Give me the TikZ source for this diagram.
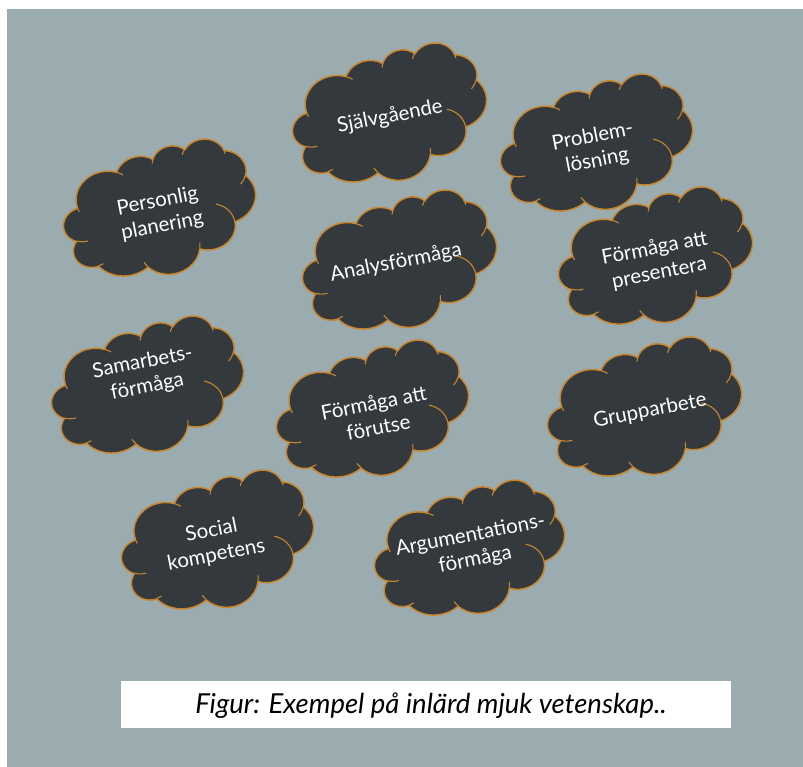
\documentclass[tikz,border=0pt]{standalone}
\usepackage{fontspec}
\setmainfont{Lato}
\definecolor{bg}{HTML}{9BACB1}
\definecolor{cloudfill}{HTML}{33393C}
\definecolor{cloudedge}{HTML}{C8862E}

% one elliptic arc given as in a preset shape: radii, start angle, sweep
% (angles are directions seen from the centre, turned into parameters here)
\newcommand\cloudarc[4]{%
  \pgfextra{%
    \pgfmathparse{atan2((#1)*sin(#3),(#2)*cos(#3))}\xdef\cloudst{\pgfmathresult}%
    \pgfmathparse{atan2((#1)*sin((#3)+(#4)),(#2)*cos((#3)+(#4)))}\xdef\clouden{\pgfmathresult}%
    \pgfmathparse{mod((\clouden)-(\cloudst)+720,360)}\xdef\clouddl{\pgfmathresult}%
  }%
  arc[start angle=\cloudst, delta angle=\clouddl, x radius=#1, y radius=#2]%
}

% outline of the cloud in a 432 x 432 box centred on the origin (y down)
\newcommand\cloudpath{%
  (-177,-72.3)
  \cloudarc{67.53}{91.90}{-190.487}{123.781}
  \cloudarc{53.33}{72.67}{-144.102}{89.945}
  \cloudarc{43.65}{59.45}{-145.808}{99.723}
  \cloudarc{48.57}{65.95}{-130.986}{117.242}
  \cloudarc{53.33}{72.73}{-78.709}{109.027}
  \cloudarc{67.75}{92.20}{-46.267}{130.269}
  \cloudarc{57.85}{78.67}{0.625}{114.033}
  \cloudarc{67.52}{92.15}{22.452}{115.173}
  \cloudarc{77.20}{105.43}{66.243}{75.711}
  \cloudarc{43.60}{59.18}{-274.942}{146.736}
  \cloudarc{43.45}{59.45}{-246.829}{152.519}
  -- cycle}

% the short creases inside the outline
\newcommand\creasepath{%
  (-169.07,45.77) \cloudarc{43.45}{59.45}{86.742}{26.43}
  (-146.72,132.99) \cloudarc{43.60}{59.18}{73.610}{11.447}
  (-51.22,174.90) \cloudarc{67.52}{92.15}{137.624}{14.081}
  (72.27,131.51) \cloudarc{67.52}{92.15}{6.453}{15.998}
  (125.29,13.54) \cloudarc{57.85}{78.67}{-70.292}{70.917}
  (201.98,-62.46) \cloudarc{53.33}{72.73}{30.318}{27.752}
  (167.24,-161.74) \cloudarc{48.57}{65.95}{-13.744}{14.859}
  (74.78,-176.48) \cloudarc{48.57}{65.95}{-149.181}{18.195}
  (5.41,-168.80) \cloudarc{43.65}{59.45}{-163.494}{17.686}
  (-76.00,-164.08) \cloudarc{67.53}{91.90}{-66.707}{12.319}
  (-174.73,-58.11) \cloudarc{67.53}{91.90}{157.654}{11.858}}

% #1 centre, #2 width, #3 height, #4 turn
\newcommand\thoughtcloud[4]{%
  \begin{scope}[shift={#1}, rotate=#4, xscale=#2/432, yscale=-#3/432]
    \fill[cloudfill] \cloudpath;
    \draw[cloudedge, line width=1.5pt, line join=round] \cloudpath;
    \draw[cloudedge, line width=1.1pt] \creasepath;
  \end{scope}}

\tikzset{
  cloudlabel/.style={text=white, align=center, rotate=11,
    font=\fontsize{20.5}{25}\selectfont, inner sep=0pt},
}

\begin{document}
\begin{tikzpicture}[x=1pt, y=1pt]
  \useasboundingbox (0,0) rectangle (803,767);
  \fill[white] (0,0) rectangle (803,767);
  \fill[bg] (7,0) rectangle (803,758);

  \thoughtcloud{(390,650)}{197}{128}{12}
  \thoughtcloud{(597,620)}{195}{126}{12}
  \thoughtcloud{(160,555)}{195}{126}{12}
  \thoughtcloud{(400,503)}{197}{128}{12}
  \thoughtcloud{(656,507)}{197}{126}{12}
  \thoughtcloud{(148,378)}{195}{126}{12}
  \thoughtcloud{(373,354)}{195}{126}{12}
  \thoughtcloud{(645,356)}{197}{128}{12}
  \thoughtcloud{(218,223)}{195}{128}{12}
  \thoughtcloud{(470,215)}{193}{124}{12}

  \node[cloudlabel] (sjalv) at (390,650) {Självgående};
  \node[cloudlabel] (probl) at (595,618) {Problem-\\lösning};
  \node[cloudlabel] (pers) at (160,553) {Personlig\\planering};
  \node[cloudlabel] (analys) at (396,504) {Analysförmåga};
  \node[cloudlabel] (present) at (657,506) {Förmåga att\\presentera};
  \node[cloudlabel] (samarb) at (145,392) {Samarbets-\\förmåga};
  \node[cloudlabel] (forutse) at (376,352) {Förmåga att\\förutse};
  \node[cloudlabel] (grupp) at (650,356) {Grupparbete};
  \node[cloudlabel] (social) at (214,224) {Social\\kompetens};
  \node[cloudlabel] (argum) at (473,219) {Argumentations-\\förmåga};

  \node[fill=white, minimum width=610pt, minimum height=47pt, inner sep=0pt]
    (capbox) at (426,62.5) {};
  \node[font=\fontsize{27.5}{30}\selectfont\itshape, inner sep=0pt]
    (caption) at (431,61) {Figur: Exempel på inlärd mjuk vetenskap..};
\end{tikzpicture}
\end{document}
